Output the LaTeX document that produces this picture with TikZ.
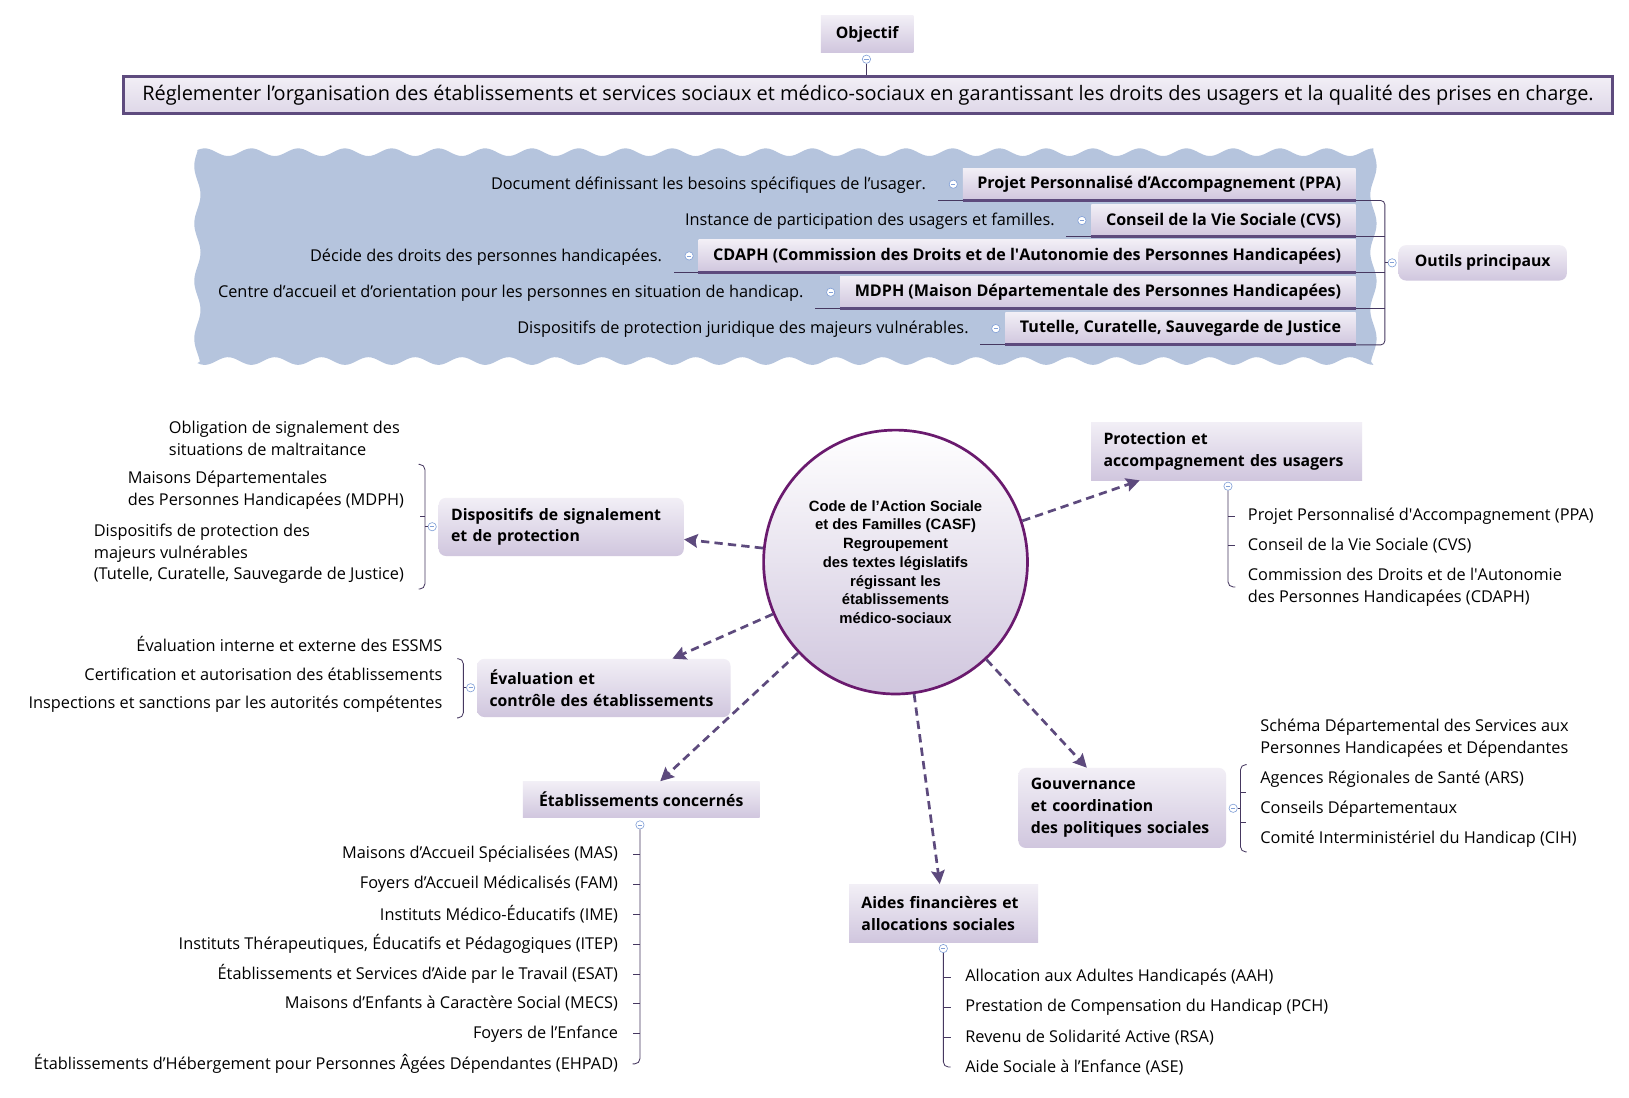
\documentclass[tikz,border=0pt]{standalone}
\usepackage{fontspec}
\setmainfont{Open Sans}
\newfontfamily\casffont{Liberation Sans}
\usetikzlibrary{arrows.meta,calc}
\hyphenpenalty=10000
\exhyphenpenalty=10000

\definecolor{boxtop}{RGB}{242,239,246}
\definecolor{boxbot}{RGB}{208,198,222}
\definecolor{wavec}{RGB}{181,196,221}
\definecolor{linkc}{RGB}{93,74,125}
\definecolor{mainc}{RGB}{94,75,126}
\definecolor{circc}{RGB}{106,26,110}
\definecolor{bracec}{RGB}{70,56,96}
\definecolor{foldc}{RGB}{130,160,215}

\begin{document}
\begin{tikzpicture}[x=1pt,y=-1pt,
  topic/.style={top color=boxtop,bottom color=boxbot,inner xsep=12pt,inner ysep=0pt,
    font=\fontsize{15.2}{21}\selectfont\bfseries},
  roundtopic/.style={topic,rounded corners=7pt},
  tool/.style={topic,inner xsep=14pt,minimum height=31pt,anchor=south east,font=\fontsize{15.5}{21}\selectfont\bfseries},
  leaf/.style={font=\fontsize{15.7}{21}\selectfont,inner sep=0pt,align=left},
  fold/.style={circle,draw=foldc,fill=white,line width=0.6pt,minimum size=8pt,inner sep=0pt,
    path picture={\draw[foldc,line width=0.7pt] ([xshift=-2pt]path picture bounding box.center)
      -- ([xshift=2pt]path picture bounding box.center);}},
  link/.style={draw=linkc,dash pattern=on 8pt off 5pt,line width=2.6pt,
    -{Stealth[length=13pt,width=13pt,inset=2pt]}},
  brace/.style={draw=bracec,line width=0.8pt,rounded corners=5pt}]

\useasboundingbox (0,0) rectangle (1568,1056);
\fill[white] (0,0) rectangle (1568,1056);

% Objective
\node[topic,minimum width=89pt,minimum height=35pt,anchor=north west] (objectif) at (790,15) {Objectif};
\node[draw=mainc,line width=3pt,top color=boxtop,bottom color=boxbot!70,minimum width=1434pt,
  minimum height=36pt,anchor=north west,font=\fontsize{19.2}{21}\selectfont] (goal) at (117,72)
  {Réglementer l’organisation des établissements et services sociaux et médico-sociaux en garantissant les droits des usagers et la qualité des prises en charge.};
\node[fold] (fobj) at (834,57) {};
\draw[bracec,line width=0.8pt] (fobj) -- (goal.north -| fobj);

% Main tools
\fill[wavec] plot[domain=190:1322,samples=400] (\x,{146.5-3.7*cos((\x-197)*8)})
  -- plot[domain=146:348,samples=80] ({1322+3*sin((\x-146)*6.5)},\x)
  -- plot[domain=1322:190,samples=400] (\x,{347.5+3.7*cos((\x-197)*8)})
  -- plot[domain=348:146,samples=80] ({190-3*sin((\x-146)*6.5)},\x) -- cycle;
\node[tool] (ppa) at (1305,193) {Projet Personnalisé d’Accompagnement (PPA)};
\node[tool] (cvs) at (1305,228) {Conseil de la Vie Sociale (CVS)};
\node[tool] (cdaph) at (1305,262) {CDAPH (Commission des Droits et de l\textquotesingle Autonomie des Personnes Handicapées)};
\node[tool] (mdph) at (1305,297) {MDPH (Maison Départementale des Personnes Handicapées)};
\node[tool] (tut) at (1305,332) {Tutelle, Curatelle, Sauvegarde de Justice};
\foreach \n/\d in {ppa/{Document définissant les besoins spécifiques de l’usager.},
    cvs/{Instance de participation des usagers et familles.},
    cdaph/{Décide des droits des personnes handicapées.},
    mdph/{Centre d’accueil et d’orientation pour les personnes en situation de handicap.},
    tut/{Dispositifs de protection juridique des majeurs vulnérables.}}{
  \draw[linkc,line width=3pt] (\n.south west) -- (\n.south east);
  \draw[bracec,line width=0.8pt] (\n.south west) -- ++(-24,0);
  \node[fold] (f\n) at ($(\n.west)+(-9,0)$) {};
  \node[leaf,anchor=east] (d\n) at ($(\n.west)+(-35,1)$) {\d};
}
\coordinate (brx) at (1333,0);
\node[roundtopic,minimum width=162pt,minimum height=34pt,anchor=west] (outils) at (1346,253) {Outils principaux};
\node[fold] (fout) at (1340,253) {};
\draw[brace,rounded corners=4pt] (ppa.south east) -- (ppa.south east -| brx) -- (tut.south east -| brx) -- (tut.south east);
\foreach \n in {cvs,cdaph,mdph}
  \draw[brace] (\n.south east) -- (\n.south east -| brx);
\draw[brace] (brx |- fout) -- (fout);

% Central code
\node[circle,draw=circc,line width=2.6pt,top color=white,bottom color=boxbot,minimum size=254pt,
  inner sep=0pt,align=center,font=\casffont\bfseries\fontsize{14.3}{18}\selectfont] (casf) at (862,541)
  {Code de l’Action Sociale\\et des Familles (CASF)\\Regroupement\\des textes législatifs\\régissant les\\établissements\\médico-sociaux};

% Protection
\node[topic,anchor=north west,minimum width=261pt,minimum height=56pt,text width=237pt,align=left] (prot) at (1050,406)
  {Protection et\\accompagnement des usagers};
\node[fold] (fprot) at (1182,468) {};
\node[leaf,anchor=west] (p1) at (1201,497) {Projet Personnalisé d\textquotesingle Accompagnement (PPA)};
\node[leaf,anchor=west] (p2) at (1201,525) {Conseil de la Vie Sociale (CVS)};
\node[leaf,anchor=west] (p3) at (1201,565) {Commission des Droits et de l\textquotesingle Autonomie\\des Personnes Handicapées (CDAPH)};
\draw[brace] (fprot) -- (fprot |- p3.west) -- ++(7,0);
\foreach \p in {p1,p2}
  \draw[brace] (fprot |- \p.west) -- ++(7,0);

% Reporting
\node[roundtopic,anchor=north west,minimum width=236pt,minimum height=56pt,text width=212pt,align=left] (disp) at (422,479)
  {Dispositifs de signalement\\et de protection};
\node[fold] (fdisp) at (416,507) {};
\node[leaf,anchor=east] (s1) at (385,422) {Obligation de signalement des\\situations de maltraitance};
\node[leaf,anchor=east] (s2) at (389,472) {Maisons Départementales\\des Personnes Handicapées (MDPH)};
\node[leaf,anchor=east] (s3) at (389,533) {Dispositifs de protection des\\majeurs vulnérables\\(Tutelle, Curatelle, Sauvegarde de Justice)};
\draw[brace] (403,447) -- (409,447) -- (409,567) -- (403,567);
\draw[brace] (409,497) -- (404,497);
\draw[brace] (409,507) -- (fdisp);

% Evaluation
\node[roundtopic,anchor=north west,minimum width=244pt,minimum height=56pt,text width=220pt,align=left] (eval) at (459,634)
  {Évaluation et\\contrôle des établissements};
\node[fold] (feval) at (453,662) {};
\node[leaf,anchor=east] (v1) at (426,620) {Évaluation interne et externe des ESSMS};
\node[leaf,anchor=east] (v2) at (426,649) {Certification et autorisation des établissements};
\node[leaf,anchor=east] (v3) at (426,678) {Inspections et sanctions par les autorités compétentes};
\draw[brace] (440,634) -- (446,634) -- (446,691) -- (440,691);
\draw[brace] (446,662) -- (feval);

% Establishments
\node[topic,anchor=north west,minimum width=228pt,minimum height=35pt] (etab) at (503,752) {Établissements concernés};
\node[fold] (fetab) at (616,794) {};
\foreach \t [count=\i] in {Maisons d’Accueil Spécialisées (MAS),
    Foyers d’Accueil Médicalisés (FAM),
    Instituts Médico-Éducatifs (IME),
    {Instituts Thérapeutiques, Éducatifs et Pédagogiques (ITEP)},
    Établissements et Services d’Aide par le Travail (ESAT),
    Maisons d’Enfants à Caractère Social (MECS),
    Foyers de l’Enfance,
    Établissements d’Hébergement pour Personnes Âgées Dépendantes (EHPAD)}
  \node[leaf,anchor=east] (e\i) at (595,{822+28.86*(\i-1)}) {\t};
\draw[brace] (fetab) -- (fetab |- e8.east) -- ++(-7,0);
\foreach \i in {1,...,7}
  \draw[brace] (fetab |- e\i.east) -- ++(-7,0);

% Financial aid
\node[topic,anchor=north west,minimum width=182pt,minimum height=56pt,text width=158pt,align=left] (aides) at (817,851)
  {Aides financières et\\allocations sociales};
\node[fold] (faides) at (908,913) {};
\foreach \t [count=\i] in {Allocation aux Adultes Handicapés (AAH),
    Prestation de Compensation du Handicap (PCH),
    Revenu de Solidarité Active (RSA),
    Aide Sociale à l’Enfance (ASE)}
  \node[leaf,anchor=west] (a\i) at (929,{941+28.7*(\i-1)}) {\t};
\draw[brace] (faides) -- (faides |- a4.west) -- ++(7,0);
\foreach \i in {1,2,3}
  \draw[brace] (faides |- a\i.west) -- ++(7,0);

% Governance
\node[roundtopic,anchor=north west,minimum width=200pt,minimum height=77pt,text width=176pt,align=left] (gouv) at (980,739)
  {Gouvernance\\et coordination\\des politiques sociales};
\node[fold] (fgouv) at (1187,778) {};
\node[leaf,anchor=west] (g1) at (1213,710.5) {Schéma Départemental des Services aux\\Personnes Handicapées et Dépendantes};
\node[leaf,anchor=west] (g2) at (1213,750) {Agences Régionales de Santé (ARS)};
\node[leaf,anchor=west] (g3) at (1213,779) {Conseils Départementaux};
\node[leaf,anchor=west] (g4) at (1213,808) {Comité Interministériel du Handicap (CIH)};
\draw[brace] (1200,736) -- (1194,736) -- (1194,820) -- (1200,820);
\draw[brace] (1194,763) -- (1199,763);
\draw[brace] (1194,792) -- (1199,792);
\draw[brace] (fgouv) -- (1194,778);

% Links
\draw[link] (casf.18) -- ($(prot.south west)!0.18!(prot.south east)$);
\draw[link] (casf.174) -- ($(disp.east)+(0,12)$);
\draw[link] (casf.203) -- ($(eval.north west)!0.77!(eval.north east)$);
\draw[link] (casf.223) -- ($(etab.north west)!0.58!(etab.north east)$);
\draw[link] (casf.278) -- ($(aides.north west)!0.48!(aides.north east)$);
\draw[link] (casf.313) -- ($(gouv.north west)!0.33!(gouv.north east)$);
\end{tikzpicture}
\end{document}
